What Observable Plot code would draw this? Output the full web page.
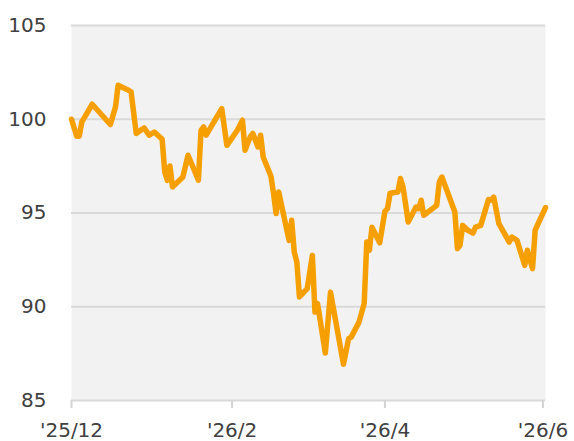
<!DOCTYPE html>
<html>
<head>
<meta charset="utf-8">
<script src="https://cdn.jsdelivr.net/npm/d3@7"></script>
<script src="https://cdn.jsdelivr.net/npm/@observablehq/plot@0.6"></script>
<style>
  html, body { margin: 0; padding: 0; background: #ffffff; }
</style>
</head>
<body>
<div id="chart"></div>
<script>
const dates = [
  "2025-12-01","2025-12-03","2025-12-04","2025-12-05","2025-12-09","2025-12-16","2025-12-18","2025-12-19",
  "2025-12-23","2025-12-24","2025-12-26","2025-12-29","2025-12-31","2026-01-02","2026-01-05","2026-01-06",
  "2026-01-07","2026-01-08","2026-01-09","2026-01-13","2026-01-15","2026-01-19","2026-01-20","2026-01-21",
  "2026-01-22","2026-01-28","2026-01-30","2026-02-03","2026-02-05","2026-02-06","2026-02-08","2026-02-09",
  "2026-02-11","2026-02-12","2026-02-13","2026-02-16","2026-02-17","2026-02-18","2026-02-19","2026-02-23",
  "2026-02-24","2026-02-25","2026-02-26","2026-02-27","2026-03-02","2026-03-04","2026-03-05","2026-03-06",
  "2026-03-09","2026-03-11","2026-03-16","2026-03-18","2026-03-19","2026-03-22","2026-03-24","2026-03-25",
  "2026-03-26","2026-03-27","2026-03-30","2026-04-01","2026-04-02","2026-04-03","2026-04-06","2026-04-07",
  "2026-04-08","2026-04-10","2026-04-13","2026-04-14","2026-04-15","2026-04-16","2026-04-21","2026-04-22",
  "2026-04-23","2026-04-28","2026-04-29","2026-04-30","2026-05-01","2026-05-03","2026-05-05","2026-05-06",
  "2026-05-08","2026-05-11","2026-05-12","2026-05-13","2026-05-15","2026-05-19","2026-05-20","2026-05-22",
  "2026-05-25","2026-05-26","2026-05-28","2026-05-29","2026-06-02"
];
const values = [
  100.0, 99.1, 99.1, 99.86, 100.8, 99.72, 100.66, 101.81,
  101.55, 101.46, 99.24, 99.54, 99.15, 99.32, 98.93, 97.19,
  96.74, 97.51, 96.39, 96.92, 98.08, 96.75, 99.41, 99.59,
  99.15, 100.57, 98.61, 99.41, 99.95, 98.35, 99.06, 99.24,
  98.52, 99.15, 97.99, 96.96, 96.05, 94.97, 96.12, 93.54,
  94.61, 92.92, 92.39, 90.52, 90.97, 92.74, 89.72, 90.17,
  87.53, 90.78, 86.93, 88.30, 88.38, 89.18, 90.18, 93.45,
  93.01, 94.24, 93.41, 95.09, 95.23, 96.05, 96.12, 96.84,
  96.39, 94.52, 95.32, 95.23, 95.68, 94.88, 95.41, 96.65,
  96.92, 95.05, 93.10, 93.28, 94.34, 94.08, 93.93, 94.25,
  94.34, 95.72, 95.68, 95.85, 94.43, 93.45, 93.72, 93.54,
  92.21, 93.01, 92.03, 94.08, 95.29
];
const yTicks = [85, 90, 95, 100, 105];
const xTickDates = ["2025-12-01", "2026-02-01", "2026-04-01", "2026-06-01"];
const xTickLabels = ["'25/12", "'26/2", "'26/4", "'26/6"];

const data = dates.map((d, i) => ({date: new Date(d + "T00:00:00Z"), value: values[i]}));
const xTicks = xTickDates.map(d => new Date(d + "T00:00:00Z"));
const labelOf = new Map(xTicks.map((d, i) => [+d, xTickLabels[i]]));

const chart = Plot.plot({
  width: 574,
  height: 441,
  marginLeft: 71,
  marginRight: 29,
  marginTop: 25,
  marginBottom: 41,
  style: {fontFamily: "DejaVu Sans, Verdana, sans-serif", fontSize: "20px", color: "#404040", background: "#ffffff"},
  x: {type: "utc", domain: d3.extent(data, d => d.date)},
  y: {domain: [85, 105]},
  marks: [
    Plot.frame({fill: "#f2f2f2", stroke: null}),
    Plot.ruleY(yTicks, {stroke: "#d9d9d9", strokeWidth: 2}),
    Plot.line(data, {x: "date", y: "value", stroke: "#f5a000", strokeWidth: 5.5, strokeLinejoin: "round", strokeLinecap: "round"}),
    Plot.axisY({ticks: yTicks, label: null, tickSize: 0, tickPadding: 25, fontSize: 20, fill: "#404040"}),
    Plot.axisX({ticks: xTicks, label: null, tickFormat: d => labelOf.get(+d), tickSize: 8, tickPadding: 14, stroke: "#d4d4d4", strokeWidth: 2, fill: "#404040", fontSize: 20})
  ]
});
document.getElementById("chart").appendChild(chart);
</script>
</body>
</html>
